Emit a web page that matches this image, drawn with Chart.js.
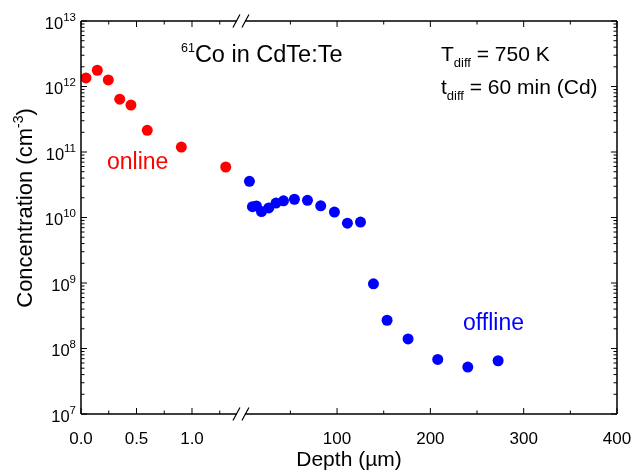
<!DOCTYPE html>
<html>
<head>
<meta charset="utf-8">
<script src="https://cdn.jsdelivr.net/npm/chart.js@4.4.1/dist/chart.umd.min.js"></script>
<style>
  html, body { margin: 0; padding: 0; background: #fff; }
  #wrap { width: 632px; height: 471px; }
</style>
</head>
<body>
<div id="wrap"><canvas id="depthChart" width="632" height="471"></canvas></div>
<script>
// online (near-surface) profile, depth in µm
const onlineDepth = [0.045, 0.147, 0.246, 0.349, 0.45, 0.597, 0.904, 1.304];
const onlineConc = [1.35e12, 1.77e12, 1.26e12, 6.4e11, 5.2e11, 2.14e11, 1.19e11, 5.9e10];

// offline (sectioned) profile, depth in µm
const offlineDepth = [6.1, 9.3, 13.6, 19.0, 26.8, 34.6, 42.6, 54.3, 68.3, 82.5, 97.2, 111.1, 125.1, 139.0, 153.6, 176.1, 207.9, 240.1, 272.6];
const offlineConc = [3.57e10, 1.46e10, 1.50e10, 1.23e10, 1.40e10, 1.66e10, 1.80e10, 1.90e10, 1.83e10, 1.51e10, 1.21e10, 8.2e9, 8.5e9, 9.7e8, 2.7e8, 1.40e8, 6.8e7, 5.2e7, 6.5e7];

// tick labels
const leftTicks = [0, 0.5, 1.0];
const leftMinor = [0.25, 0.75, 1.25];
const rightTicks = [100, 200, 300, 400];
const rightMinor = [50, 150, 250, 350];
const yExponents = [7, 8, 9, 10, 11, 12, 13];

const FONT = '"Liberation Sans", Arial, sans-serif';

// both x scales share the same chart area; the online one is stretched
const ON_MAX = 4.829;
const OFF_MIN = -174.4;
const OFF_MAX = 400;
const BREAK_AT = -3;
const onToOff = v => OFF_MIN + v / ON_MAX * (OFF_MAX - OFF_MIN);

function drawRuns(ctx, runs, x, y) {
    runs.forEach(r => {
        ctx.font = r.size + 'px ' + FONT;
        ctx.fillText(r.t, x, y + (r.dy || 0));
        x += ctx.measureText(r.t).width;
    });
    return x;
}

function runsWidth(ctx, runs) {
    let w = 0;
    runs.forEach(r => {
        ctx.font = r.size + 'px ' + FONT;
        w += ctx.measureText(r.t).width;
    });
    return w;
}

const framePlugin = {
    id: 'frame',
    afterDraw(chart) {
        const { ctx, chartArea: a, scales } = chart;
        const xs = scales.xOff, ys = scales.y;
        const bx = xs.getPixelForValue(BREAK_AT);

        ctx.save();
        ctx.strokeStyle = '#000';
        ctx.lineWidth = 1.5;
        ctx.beginPath();
        ctx.moveTo(a.left, a.top); ctx.lineTo(a.left, a.bottom);
        ctx.moveTo(a.right, a.top); ctx.lineTo(a.right, a.bottom);
        [a.top, a.bottom].forEach(y => {
            ctx.moveTo(a.left, y); ctx.lineTo(bx - 4, y);
            ctx.moveTo(bx + 4, y); ctx.lineTo(a.right, y);
        });
        ctx.stroke();

        // axis break marks
        ctx.lineWidth = 1.2;
        ctx.beginPath();
        [a.top, a.bottom].forEach(y => {
            [-4.5, 4.5].forEach(d => {
                ctx.moveTo(bx + d - 3.5, y + 6.5);
                ctx.lineTo(bx + d + 3.5, y - 6.5);
            });
        });
        ctx.stroke();

        // inward ticks
        ctx.lineWidth = 1;
        ctx.beginPath();
        xs.ticks.forEach(t => {
            const px = xs.getPixelForValue(t.value);
            const len = t.major ? 6 : 3.5;
            ctx.moveTo(px, a.bottom); ctx.lineTo(px, a.bottom - len);
            ctx.moveTo(px, a.top); ctx.lineTo(px, a.top + len);
        });
        ys.ticks.forEach(t => {
            const py = ys.getPixelForValue(t.value);
            const len = t.major ? 6 : 3.5;
            ctx.moveTo(a.left, py); ctx.lineTo(a.left + len, py);
            ctx.moveTo(a.right, py); ctx.lineTo(a.right - len, py);
        });
        ctx.stroke();

        // y tick labels 10^n
        ctx.fillStyle = '#000';
        ctx.textBaseline = 'alphabetic';
        ctx.textAlign = 'left';
        yExponents.forEach(n => {
            const py = ys.getPixelForValue(Math.pow(10, n));
            const runs = [{ t: '10', size: 16.5 }, { t: String(n), size: 11.5, dy: -7.6 }];
            drawRuns(ctx, runs, 76 - runsWidth(ctx, runs), py + 7.5);
        });

        // y title
        ctx.save();
        ctx.translate(32, 208);
        ctx.rotate(-Math.PI / 2);
        const title = [{ t: 'Concentration (cm', size: 22 }, { t: '-3', size: 14, dy: -9 }, { t: ')', size: 22 }];
        drawRuns(ctx, title, -runsWidth(ctx, title) / 2, 0);
        ctx.restore();

        // annotations
        drawRuns(ctx, [{ t: '61', size: 12.5, dy: -10 }, { t: 'Co in CdTe:Te', size: 23.5 }], 181, 62);
        drawRuns(ctx, [{ t: 'T', size: 21 }, { t: 'diff', size: 13, dy: 6 }, { t: ' = 750 K', size: 21 }], 441, 61);
        drawRuns(ctx, [{ t: 't', size: 21 }, { t: 'diff', size: 13, dy: 6 }, { t: ' = 60 min (Cd)', size: 21 }], 441, 94);
        ctx.fillStyle = '#ff0000';
        drawRuns(ctx, [{ t: 'online', size: 23 }], 107, 169);
        ctx.fillStyle = '#0000ff';
        drawRuns(ctx, [{ t: 'offline', size: 23 }], 463, 330);
        ctx.restore();
    }
};

document.addEventListener('DOMContentLoaded', () => {
    const ctx = document.getElementById('depthChart');

    new Chart(ctx, {
        type: 'scatter',
        data: {
            datasets: [{
                label: 'online',
                data: onlineDepth.map((x, i) => ({ x, y: onlineConc[i] })),
                xAxisID: 'xOn',
                yAxisID: 'y',
                backgroundColor: '#ff0000',
                borderWidth: 0,
                pointRadius: 5.5
            }, {
                label: 'offline',
                data: offlineDepth.map((x, i) => ({ x, y: offlineConc[i] })),
                xAxisID: 'xOff',
                yAxisID: 'y',
                backgroundColor: '#0000ff',
                borderWidth: 0,
                pointRadius: 5.5
            }]
        },
        options: {
            responsive: false,
            animation: false,
            layout: { padding: { top: 21, right: 15, left: 0, bottom: 0 } },
            scales: {
                xOn: {
                    type: 'linear',
                    display: false,
                    min: 0,
                    max: ON_MAX
                },
                xOff: {
                    type: 'linear',
                    position: 'bottom',
                    min: OFF_MIN,
                    max: OFF_MAX,
                    afterBuildTicks: scale => {
                        const t = [];
                        leftTicks.forEach(v => t.push({ value: onToOff(v), major: true, text: v.toFixed(1) }));
                        leftMinor.forEach(v => t.push({ value: onToOff(v), major: false, text: '' }));
                        rightTicks.forEach(v => t.push({ value: v, major: true, text: String(v) }));
                        rightMinor.forEach(v => t.push({ value: v, major: false, text: '' }));
                        t.sort((p, q) => p.value - q.value);
                        scale.ticks = t;
                    },
                    afterFit: scale => {
                        scale.height = 57;
                        scale.paddingLeft = 0;
                        scale.paddingRight = 0;
                    },
                    grid: { display: false },
                    border: { display: false },
                    ticks: {
                        autoSkip: false,
                        maxRotation: 0,
                        padding: 7,
                        color: '#000',
                        font: { family: FONT, size: 17 },
                        callback: (v, i, ticks) => ticks[i].text
                    },
                    title: {
                        display: true,
                        text: 'Depth (µm)',
                        color: '#000',
                        font: { family: FONT, size: 21 },
                        padding: { top: 0, bottom: -2 }
                    }
                },
                y: {
                    type: 'logarithmic',
                    min: 1e7,
                    max: 1e13,
                    afterBuildTicks: scale => {
                        const t = [];
                        yExponents.forEach(n => {
                            for (let m = 1; m <= 9; m++) {
                                if (n === 13 && m > 1) break;
                                t.push({ value: m * Math.pow(10, n), major: m === 1 });
                            }
                        });
                        scale.ticks = t;
                    },
                    afterFit: scale => {
                        scale.width = 81;
                        scale.paddingTop = 0;
                        scale.paddingBottom = 0;
                    },
                    grid: { display: false },
                    border: { display: false },
                    ticks: { display: false }
                }
            },
            plugins: {
                legend: { display: false },
                tooltip: { enabled: false }
            }
        },
        plugins: [framePlugin]
    });
});
</script>
</body>
</html>
